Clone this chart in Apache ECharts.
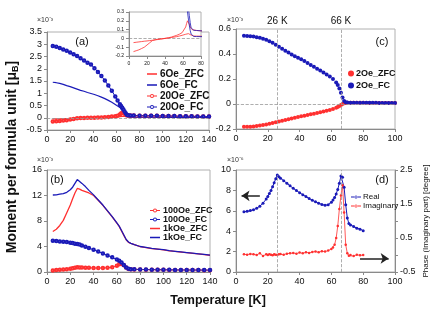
<!DOCTYPE html>
<html>
<head>
<meta charset="utf-8">
<script src="https://cdn.jsdelivr.net/npm/echarts@6/dist/echarts.min.js"></script>
<style>
  html, body { margin: 0; padding: 0; background: #fff; }
  #chart { width: 436px; height: 327px; }
</style>
</head>
<body>
<div id="chart"></div>
<script>
// panel (a): low field ZFC / FC, units 1e-3 muB
const T_A = [5, 8, 11, 14, 17, 20, 23, 26, 29, 32, 35, 38, 41, 44, 47, 50, 53, 56, 59, 61, 63, 64, 65, 66, 67, 68, 69, 70, 72, 75, 80, 85, 90, 95, 100, 105, 110, 115, 120, 125, 130, 135, 140];
const ZFC_6OE = [-0.048, -0.044, -0.040, -0.036, -0.032, -0.029, -0.025, -0.021, -0.017, -0.013, -0.009, -0.004, 0.001, 0.005, 0.010, 0.015, 0.020, 0.027, 0.035, 0.040, 0.047, 0.051, 0.055, 0.054, 0.050, 0.045, 0.038, 0.030, 0.027, 0.026, 0.025, 0.024, 0.024, 0.023, 0.023, 0.022, 0.022, 0.022, 0.021, 0.021, 0.021, 0.020, 0.020];
const FC_6OE = [1.45, 1.43, 1.40, 1.36, 1.31, 1.27, 1.22, 1.17, 1.12, 1.08, 1.03, 0.99, 0.95, 0.90, 0.84, 0.78, 0.71, 0.63, 0.54, 0.48, 0.42, 0.37, 0.30, 0.22, 0.15, 0.09, 0.05, 0.03, 0.022, 0.021, 0.020, 0.020, 0.020, 0.020, 0.019, 0.019, 0.019, 0.019, 0.018, 0.018, 0.018, 0.018, 0.018];
const ZFC_20OE = [-0.15, -0.14, -0.13, -0.115, -0.10, -0.075, -0.05, -0.025, -0.015, -0.01, -0.005, -0.002, 0.002, 0.008, 0.015, 0.025, 0.035, 0.048, 0.065, 0.08, 0.13, 0.17, 0.20, 0.19, 0.16, 0.13, 0.11, 0.10, 0.092, 0.09, 0.086, 0.083, 0.08, 0.077, 0.074, 0.07, 0.067, 0.064, 0.06, 0.058, 0.055, 0.052, 0.05];
const FC_20OE = [2.93, 2.90, 2.85, 2.79, 2.73, 2.66, 2.59, 2.52, 2.43, 2.34, 2.25, 2.17, 2.02, 1.87, 1.70, 1.52, 1.32, 1.10, 0.87, 0.70, 0.55, 0.48, 0.41, 0.34, 0.26, 0.18, 0.12, 0.10, 0.092, 0.09, 0.086, 0.084, 0.081, 0.078, 0.075, 0.071, 0.068, 0.065, 0.062, 0.059, 0.056, 0.053, 0.05];

// panel (b): higher fields, units 1e-3 muB
const T_B = [5, 8, 11, 14, 17, 20, 22, 24, 26, 28, 30, 33, 36, 40, 44, 48, 52, 56, 60, 62, 64, 66, 68, 70, 72, 75, 80, 85, 90, 95, 100, 105, 110, 115, 120, 125, 130, 135, 140];
const ZFC_100OE = [0.25, 0.3, 0.35, 0.4, 0.45, 0.52, 0.6, 0.68, 0.73, 0.72, 0.7, 0.68, 0.66, 0.63, 0.62, 0.63, 0.66, 0.75, 1.0, 1.2, 1.25, 1.05, 0.7, 0.48, 0.43, 0.41, 0.39, 0.37, 0.36, 0.35, 0.34, 0.33, 0.32, 0.31, 0.31, 0.3, 0.3, 0.29, 0.29];
const FC_100OE = [4.9, 4.85, 4.8, 4.75, 4.7, 4.6, 4.55, 4.45, 4.4, 4.3, 4.15, 3.95, 3.75, 3.5, 3.2, 2.9, 2.6, 2.3, 1.95, 1.75, 1.5, 1.1, 0.7, 0.5, 0.45, 0.42, 0.4, 0.38, 0.37, 0.36, 0.35, 0.34, 0.33, 0.32, 0.32, 0.31, 0.31, 0.3, 0.3];
const ZFC_1KOE = [6.35, 6.7, 7.3, 8.1, 9.3, 10.5, 11.5, 12.4, 13.1, 13.0, 12.8, 12.6, 12.4, 12.0, 11.25, 10.45, 9.55, 8.65, 7.65, 7.15, 6.45, 5.75, 5.05, 4.65, 4.48, 4.28, 3.98, 3.83, 3.68, 3.58, 3.48, 3.33, 3.23, 3.13, 3.03, 2.93, 2.83, 2.73, 2.63];
const FC_1KOE = [12.08, 12.1, 12.2, 12.3, 12.5, 12.9, 13.3, 13.9, 14.5, 14.2, 13.9, 13.4, 12.8, 12.1, 11.3, 10.5, 9.6, 8.7, 7.7, 7.2, 6.5, 5.8, 5.1, 4.7, 4.5, 4.3, 4.0, 3.85, 3.7, 3.6, 3.5, 3.35, 3.25, 3.15, 3.05, 2.95, 2.85, 2.75, 2.65];

// panel (c): 2 Oe, units 1e-3 muB
const T_C = [5, 7, 9, 11, 13, 15, 17, 19, 21, 23, 25, 27, 29, 31, 33, 35, 37, 39, 41, 43, 45, 47, 49, 51, 53, 55, 57, 59, 61, 63, 64, 65, 66, 67, 68, 69, 70, 72, 74, 76, 78, 80, 82, 84, 86, 88, 90, 92, 94, 96, 98, 100];
const ZFC_2OE = [-0.182, -0.182, -0.181, -0.179, -0.176, -0.172, -0.168, -0.163, -0.158, -0.152, -0.146, -0.14, -0.134, -0.128, -0.122, -0.116, -0.11, -0.104, -0.098, -0.093, -0.088, -0.082, -0.077, -0.072, -0.066, -0.06, -0.054, -0.047, -0.04, -0.03, -0.024, -0.016, -0.008, 0, 0.006, 0.009, 0.01, 0.01, 0.01, 0.01, 0.01, 0.01, 0.009, 0.009, 0.009, 0.009, 0.009, 0.008, 0.008, 0.008, 0.008, 0.008];
const FC_2OE = [0.546, 0.545, 0.543, 0.54, 0.535, 0.53, 0.523, 0.515, 0.503, 0.49, 0.474, 0.458, 0.442, 0.427, 0.412, 0.397, 0.383, 0.37, 0.358, 0.344, 0.328, 0.313, 0.298, 0.283, 0.268, 0.253, 0.237, 0.22, 0.2, 0.172, 0.152, 0.125, 0.09, 0.052, 0.025, 0.014, 0.012, 0.011, 0.011, 0.011, 0.01, 0.01, 0.01, 0.01, 0.01, 0.01, 0.009, 0.009, 0.009, 0.009, 0.009, 0.009];

// panel (d): ac susceptibility, real (1e-6) and phase (degree)
const T_D = [5, 7, 9, 11, 13, 15, 17, 19, 20, 21, 22, 23, 24, 25, 26, 27, 28, 30, 32, 34, 36, 38, 40, 42, 44, 46, 48, 50, 52, 54, 56, 58, 60, 61, 62, 63, 64, 65, 66, 67, 68, 69, 70, 71, 72, 74, 76, 78, 80];
const REAL = [5.9, 5.95, 6.02, 6.1, 6.25, 6.45, 6.75, 7.15, 7.4, 7.7, 8.0, 8.35, 8.75, 9.15, 9.5, 9.35, 9.2, 8.95, 8.7, 8.45, 8.2, 7.98, 7.78, 7.58, 7.4, 7.2, 7.03, 6.88, 6.75, 6.62, 6.55, 6.6, 6.85, 7.05, 7.3, 7.65, 8.1, 8.7, 9.4, 9.3, 8.3, 6.6, 5.3, 4.75, 4.6, 4.45, 4.3, 4.2, 4.05];
const IMAG = [0.02, 0.01, 0.03, 0.02, 0.0, 0.05, -0.03, 0.02, 0.0, 0.02, 0.01, -0.01, 0.02, 0.01, 0.0, 0.02, 0.03, 0.01, 0.04, 0.05, 0.06, 0.04, 0.07, 0.05, 0.08, 0.06, 0.09, 0.1, 0.08, 0.11, 0.1, 0.13, 0.18, 0.22, 0.3, 0.5, 0.85, 1.35, 1.75, 2.05, 1.25, 0.3, 0.05, -0.02, 0.0, -0.03, 0.01, -0.01, 0.0];

const RED = "#ff3030";
const BLUE = "#1a1ab8";
const AXIS_GREY = "#8a8a8a";
const FONT = "Liberation Sans";

// legend icons, 10x8 box (tiny corner specks pin the bounds)
const BOX = "M0,0h0.01v0.01h-0.01z M9.99,7.99h0.01v0.01h-0.01z ";
const ICON_LINE = "path://" + BOX + "M0,3.3h10v1.4h-10z";
const ICON_LINE_RING = "path://" + BOX + "M0,3.4h3h0v1.2h-3z M7,3.4h3v1.2h-3z M3,4a2,2 0 1,0 4,0a2,2 0 1,0 -4,0z M3.9,4a1.1,1.1 0 1,1 2.2,0a1.1,1.1 0 1,1 -2.2,0z";
const ICON_LINE_DOT = "path://" + BOX + "M0,3.5h10v1h-10z M3.5,4a1.5,1.5 0 1,0 3,0a1.5,1.5 0 1,0 -3,0z";

function pairs(xs, ys) {
  return xs.map((x, i) => [x, ys[i]]);
}

function xAxisOf(grid, max, interval, fontSize) {
  return {
    type: "value", gridIndex: grid, min: 0, max: max, interval: interval,
    axisLine: { onZero: false, lineStyle: { color: AXIS_GREY } },
    axisTick: { length: 3, lineStyle: { color: AXIS_GREY } },
    axisLabel: { color: "#111", fontSize: fontSize || 9, fontFamily: FONT, margin: 5 },
    splitLine: { show: false },
  };
}

function yAxisOf(grid, min, max, interval, fontSize) {
  return {
    type: "value", gridIndex: grid, min: min, max: max, interval: interval,
    axisLine: { show: true, lineStyle: { color: AXIS_GREY } },
    axisTick: { show: true, length: 3, lineStyle: { color: AXIS_GREY } },
    axisLabel: { color: "#111", fontSize: fontSize || 9, fontFamily: FONT, margin: 5 },
    splitLine: { show: false },
  };
}

const zeroLine = {
  silent: true, symbol: "none", label: { show: false },
  lineStyle: { color: "#999", type: "dashed", width: 0.8 },
  data: [{ yAxis: 0 }],
};

const arrowLine = {
  silent: true, symbol: ["none", "arrow"], symbolSize: 8, label: { show: false },
  lineStyle: { color: "#222", type: "solid", width: 1.5 },
};

const chart = echarts.init(document.getElementById("chart"));

const gridBox = { show: true, borderColor: "#b0b0b0", borderWidth: 1, backgroundColor: "transparent" };

const option = {
  animation: false,
  textStyle: { fontFamily: FONT },
  grid: [
    Object.assign({ left: 47, top: 32, width: 162, height: 98 }, gridBox),
    Object.assign({ left: 47, top: 170, width: 163, height: 102 }, gridBox),
    Object.assign({ left: 236, top: 29, width: 159, height: 100 }, gridBox),
    Object.assign({ left: 236, top: 170, width: 159, height: 102 }, gridBox),
    Object.assign({ left: 129, top: 12, width: 72, height: 44, z: 5 }, gridBox, { backgroundColor: "#fff" }),
  ],
  xAxis: [
    xAxisOf(0, 140, 20),
    xAxisOf(1, 140, 20),
    xAxisOf(2, 100, 20),
    xAxisOf(3, 100, 20),
    Object.assign(xAxisOf(4, 80, 20, 5), { z: 6 }),
  ],
  yAxis: [
    yAxisOf(0, -0.5, 3.5, 0.5),
    yAxisOf(1, 0, 16, 4),
    yAxisOf(2, -0.2, 0.6, 0.2),
    yAxisOf(3, 0, 10, 2),
    Object.assign(yAxisOf(3, -0.5, 2.5, 0.5), {
      position: "right",
      axisLabel: {
        color: "#111", fontSize: 9, fontFamily: FONT, margin: 5,
        formatter: (v) => (Math.abs((v + 0.5) % 1) < 1e-6 ? String(v) : ""),
      },
      name: "Phase (Imaginary part) [degree]",
      nameLocation: "middle",
      nameGap: 27,
      nameRotate: 90,
      nameTextStyle: { fontSize: 8, color: "#111", fontFamily: FONT },
    }),
    Object.assign(yAxisOf(4, -0.2, 0.3, 0.1, 5), { z: 6 }),
  ],
  legend: [
    {
      left: 142, top: 64, orient: "vertical", itemGap: 1, itemWidth: 10, itemHeight: 8,
      itemStyle: { borderWidth: 0 },
      textStyle: { fontSize: 10, fontWeight: "bold", color: "#111", padding: [0, 0, 0, -2] },
      data: [
        { name: "6Oe_ZFC", icon: ICON_LINE },
        { name: "6Oe_FC", icon: ICON_LINE },
        { name: "20Oe_ZFC", icon: ICON_LINE_RING },
        { name: "20Oe_FC", icon: ICON_LINE_RING },
      ],
    },
    {
      left: 145, top: 201, orient: "vertical", itemGap: 0, itemWidth: 10, itemHeight: 8,
      itemStyle: { borderWidth: 0 },
      textStyle: { fontSize: 9, fontWeight: "bold", color: "#111", padding: [0, 0, 0, -2] },
      data: [
        { name: "100Oe_ZFC", icon: ICON_LINE_RING },
        { name: "100Oe_FC", icon: ICON_LINE_RING },
        { name: "1kOe_ZFC", icon: ICON_LINE },
        { name: "1kOe_FC", icon: ICON_LINE },
      ],
    },
    {
      left: 343, top: 64, orient: "vertical", itemGap: 3, itemWidth: 6, itemHeight: 6,
      textStyle: { fontSize: 9, fontWeight: "bold", color: "#111", padding: [0, 0, 0, -3] },
      data: ["2Oe_ZFC", "2Oe_FC"],
    },
    {
      left: 346, top: 188, orient: "vertical", itemGap: 1, itemWidth: 10, itemHeight: 8,
      itemStyle: { borderWidth: 0 },
      textStyle: { fontSize: 8, color: "#111", padding: [0, 0, 0, -3] },
      data: [
        { name: "Real", icon: ICON_LINE_DOT },
        { name: "Imaginary", icon: ICON_LINE_DOT },
      ],
    },
  ],
  series: [
    // (a)
    {
      name: "6Oe_ZFC", type: "line", xAxisIndex: 0, yAxisIndex: 0, symbol: "none",
      lineStyle: { color: RED, width: 1.2 }, itemStyle: { color: RED },
      data: pairs(T_A, ZFC_6OE), markLine: zeroLine,
    },
    {
      name: "6Oe_FC", type: "line", xAxisIndex: 0, yAxisIndex: 0, symbol: "none",
      lineStyle: { color: BLUE, width: 1.2 }, itemStyle: { color: BLUE },
      data: pairs(T_A, FC_6OE),
    },
    {
      name: "20Oe_ZFC", type: "line", xAxisIndex: 0, yAxisIndex: 0, symbol: "emptyCircle", symbolSize: 2.5,
      lineStyle: { color: RED, width: 1 }, itemStyle: { color: RED, borderWidth: 0.8 },
      data: pairs(T_A, ZFC_20OE),
    },
    {
      name: "20Oe_FC", type: "line", xAxisIndex: 0, yAxisIndex: 0, symbol: "emptyCircle", symbolSize: 2.5,
      lineStyle: { color: BLUE, width: 1 }, itemStyle: { color: BLUE, borderWidth: 0.8 },
      data: pairs(T_A, FC_20OE),
    },
    // inset of (a)
    {
      name: "6Oe_ZFC", type: "line", xAxisIndex: 4, yAxisIndex: 5, symbol: "none", z: 7, clip: true,
      lineStyle: { color: RED, width: 0.8 }, data: pairs(T_A, ZFC_6OE), markLine: zeroLine,
    },
    {
      name: "20Oe_ZFC", type: "line", xAxisIndex: 4, yAxisIndex: 5, symbol: "none", z: 7, clip: true,
      lineStyle: { color: RED, width: 0.8 }, data: pairs(T_A, ZFC_20OE),
    },
    {
      name: "6Oe_FC", type: "line", xAxisIndex: 4, yAxisIndex: 5, symbol: "none", z: 7, clip: true,
      lineStyle: { color: BLUE, width: 0.8 }, data: pairs(T_A, FC_6OE),
    },
    {
      name: "20Oe_FC", type: "line", xAxisIndex: 4, yAxisIndex: 5, symbol: "none", z: 7, clip: true,
      lineStyle: { color: BLUE, width: 0.8 }, data: pairs(T_A, FC_20OE),
    },
    // (b)
    {
      name: "100Oe_ZFC", type: "line", xAxisIndex: 1, yAxisIndex: 1, symbol: "emptyCircle", symbolSize: 2.5,
      lineStyle: { color: RED, width: 1 }, itemStyle: { color: RED, borderWidth: 0.8 },
      data: pairs(T_B, ZFC_100OE),
    },
    {
      name: "100Oe_FC", type: "line", xAxisIndex: 1, yAxisIndex: 1, symbol: "emptyCircle", symbolSize: 2.5,
      lineStyle: { color: BLUE, width: 1 }, itemStyle: { color: BLUE, borderWidth: 0.8 },
      data: pairs(T_B, FC_100OE),
    },
    {
      name: "1kOe_ZFC", type: "line", xAxisIndex: 1, yAxisIndex: 1, symbol: "none",
      lineStyle: { color: RED, width: 1.3 }, itemStyle: { color: RED },
      data: pairs(T_B, ZFC_1KOE),
    },
    {
      name: "1kOe_FC", type: "line", xAxisIndex: 1, yAxisIndex: 1, symbol: "none",
      lineStyle: { color: BLUE, width: 1.3 }, itemStyle: { color: BLUE },
      data: pairs(T_B, FC_1KOE),
    },
    // (c)
    {
      name: "2Oe_ZFC", type: "scatter", xAxisIndex: 2, yAxisIndex: 2, symbolSize: 4,
      itemStyle: { color: RED, opacity: 1 }, data: pairs(T_C, ZFC_2OE),
      markLine: {
        silent: true, symbol: "none",
        lineStyle: { color: "#999", type: "dashed", width: 0.8 },
        label: { show: true, position: "end", distance: 3, color: "#111", fontSize: 10, fontFamily: FONT },
        data: [
          { xAxis: 26, label: { formatter: "26 K" } },
          { xAxis: 66, label: { formatter: "66 K" } },
          { yAxis: 0, label: { show: false } },
        ],
      },
    },
    {
      name: "2Oe_FC", type: "scatter", xAxisIndex: 2, yAxisIndex: 2, symbolSize: 4,
      itemStyle: { color: BLUE, opacity: 1 }, data: pairs(T_C, FC_2OE),
    },
    // (d)
    {
      name: "Real", type: "line", xAxisIndex: 3, yAxisIndex: 3, symbol: "circle", symbolSize: 3,
      lineStyle: { color: BLUE, width: 1 }, itemStyle: { color: BLUE },
      data: pairs(T_D, REAL),
      markLine: {
        silent: true, symbol: ["none", "none"], label: { show: false },
        lineStyle: { color: "#999", type: "dashed", width: 0.8 },
        data: [
          [{ coord: [26, 0] }, { coord: [26, 9.5] }],
          { xAxis: 66.5 },
        ],
      },
    },
    {
      name: "Imaginary", type: "line", xAxisIndex: 3, yAxisIndex: 4, symbol: "circle", symbolSize: 2.5,
      lineStyle: { color: RED, width: 0.8 }, itemStyle: { color: RED },
      data: pairs(T_D, IMAG),
    },
    // arrows pointing at each axis of (d)
    {
      type: "line", xAxisIndex: 3, yAxisIndex: 3, data: [], silent: true,
      markLine: Object.assign({ data: [[{ coord: [15, 7.47] }, { coord: [3.5, 7.47] }]] }, arrowLine),
    },
    {
      type: "line", xAxisIndex: 3, yAxisIndex: 4, data: [], silent: true,
      markLine: Object.assign({ data: [[{ coord: [78, -0.1] }, { coord: [96, -0.1] }]] }, arrowLine),
    },
  ],
  graphic: [
    {
      type: "text", x: 12, y: 157, rotation: Math.PI / 2,
      style: {
        text: "Moment per formula unit [μ{s|B}]",
        rich: { s: { fontSize: 9, fontWeight: "bold", fontFamily: FONT, verticalAlign: "bottom", padding: [7, 0, 0, 0] } },
        font: "bold 14px Liberation Sans", fill: "#111",
        align: "center", verticalAlign: "middle",
      },
    },
    {
      type: "text", x: 218, y: 301,
      style: { text: "Temperature [K]", font: "bold 12.5px Liberation Sans", fill: "#111", align: "center", verticalAlign: "middle" },
    },
    { type: "text", x: 37, y: 20, style: { text: "×10⁻³", font: "7px Liberation Sans", fill: "#333", verticalAlign: "middle" } },
    { type: "text", x: 37, y: 160, style: { text: "×10⁻³", font: "7px Liberation Sans", fill: "#333", verticalAlign: "middle" } },
    { type: "text", x: 227, y: 20, style: { text: "×10⁻³", font: "7px Liberation Sans", fill: "#333", verticalAlign: "middle" } },
    { type: "text", x: 227, y: 160, style: { text: "×10⁻⁶", font: "7px Liberation Sans", fill: "#333", verticalAlign: "middle" } },
    { type: "text", x: 82, y: 42, style: { text: "(a)", font: "11px Liberation Sans", fill: "#111", align: "center", verticalAlign: "middle" } },
    { type: "text", x: 57, y: 180, style: { text: "(b)", font: "11px Liberation Sans", fill: "#111", align: "center", verticalAlign: "middle" } },
    { type: "text", x: 382, y: 42, style: { text: "(c)", font: "11px Liberation Sans", fill: "#111", align: "center", verticalAlign: "middle" } },
    { type: "text", x: 382, y: 180, style: { text: "(d)", font: "11px Liberation Sans", fill: "#111", align: "center", verticalAlign: "middle" } },
  ],
};

chart.setOption(option);
</script>
</body>
</html>
